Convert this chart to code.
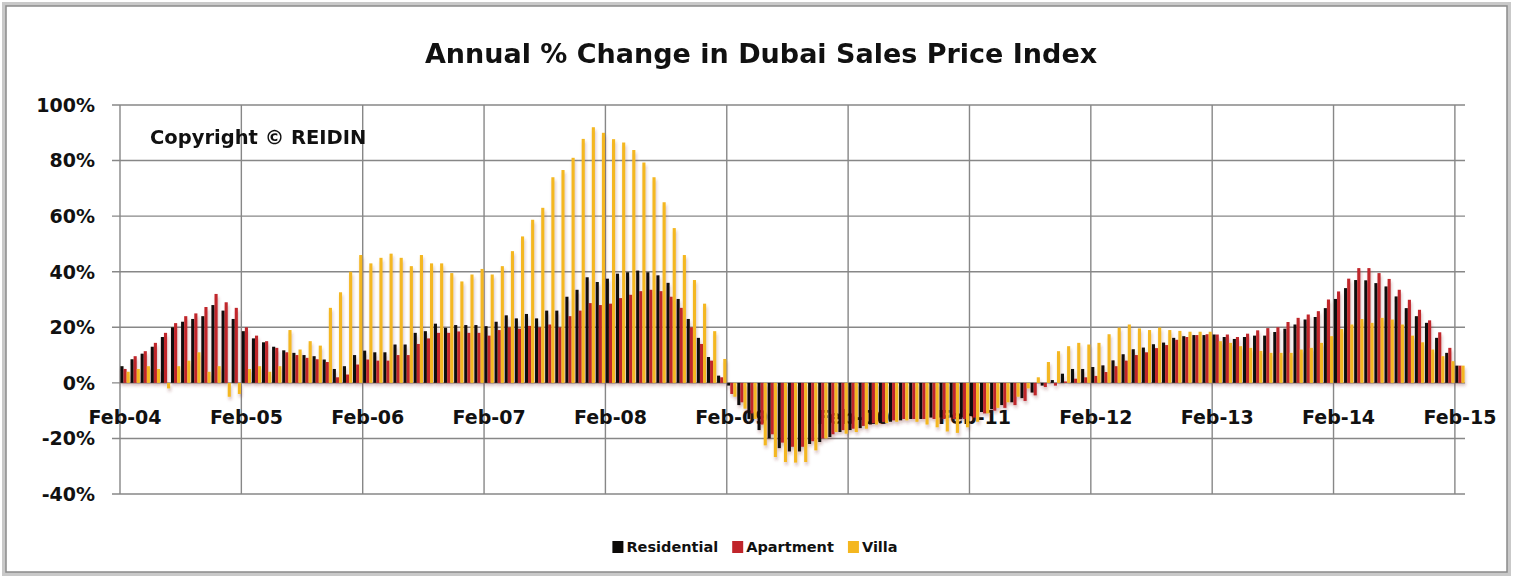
<!DOCTYPE html>
<html>
<head>
<meta charset="utf-8">
<script src="https://cdn.jsdelivr.net/npm/d3@7"></script>
<style>
  body { margin: 0; background: #fff; }
  svg { display: block; font-family: "DejaVu Sans", Lato, sans-serif; font-weight: 700; }
</style>
</head>
<body>
<div id="chart"></div>
<script>
// year tick labels (one every 12 months)
const yearLabels = ["Feb-04", "Feb-05", "Feb-06", "Feb-07", "Feb-08", "Feb-09",
  "Feb-10", "Feb-11", "Feb-12", "Feb-13", "Feb-14", "Feb-15"];
const seriesNames = ["Residential", "Apartment", "Villa"];
const colors = ["#0c0a08", "#c0252b", "#f4b720"];
const yTicks = [-40, -20, 0, 20, 40, 60, 80, 100];

// annual % change, monthly Feb-04 .. Feb-15
const residential = [
  6, 8.5, 10.5, 13, 16.5, 20, 22, 23, 24, 28, 26, 23,
  18.6, 16, 14.6, 13, 11.7, 10.8, 10, 9.6, 8.4, 5, 6, 10,
  11.6, 11, 11, 13.8, 13.8, 18, 18.6, 21.3, 19.8, 20.8, 20.8, 20.8,
  20.4, 22, 24.3, 23.2, 24.8, 23.2, 26, 26, 31, 33.5, 38, 36.3,
  37.5, 39.3, 39.8, 40.4, 39.8, 38.7, 36, 30.2, 23, 16.2, 9.3, 2.6,
  -1, -8, -13, -17, -20, -23.5, -24.7, -24.7, -22, -21.3, -19.5, -17.7,
  -17, -16.3, -15, -14.5, -14, -13.5, -13, -13, -12.5, -12.5, -12.5, -12.5,
  -12, -10.5, -9.5, -8, -7, -5.5, -3.5, -1, 1, 3.3, 5, 5,
  5.7, 6.3, 8.1, 10.3, 12.1, 12.7, 13.9, 14.5, 16.2, 16.8, 17.2, 17.2,
  17.4, 16.5, 15.8, 16.5, 17, 17, 18.3, 19.5, 21, 22.8, 23.7, 26.9,
  30.2, 34.1, 37, 36.9, 35.9, 34.7, 31.1, 26.9, 24, 21.6, 16.2, 10.8, 6.2
];
const apartment = [
  5, 9.6, 11.4, 14.4, 18, 21.5, 24, 25, 27.3, 32, 29, 27,
  20, 17, 15, 12.6, 11, 10, 9, 8.5, 7.5, 2, 3, 6.6,
  8.4, 8, 8, 10, 10, 14, 16, 18, 18, 18.5, 18, 18,
  17, 19, 20, 19.5, 20.5, 20, 21, 20, 24, 26, 28.7, 28,
  28.5, 30.5, 31.7, 33, 33.5, 33, 31, 27, 20, 14, 8, 2,
  -4, -7, -11, -15, -18.5, -21.5, -23, -23, -21, -20, -18.5, -17,
  -16.5, -15.5, -14.5, -14, -13.5, -13, -13, -13, -13, -13, -13, -13,
  -12.5, -11, -10, -9, -8, -6.5, -4.5, -1.5, -1, 0.5, 1.5, 2,
  2.5, 3.9, 6, 8, 10, 11, 12.5, 13.6, 15.5, 16.5, 17.2, 17.5,
  17.4, 17.4, 16.5, 17.7, 18.9, 19.7, 20, 21.9, 23.4, 24.6, 25.8, 30,
  32.9, 37.5, 41.3, 41.3, 39.5, 37.4, 33.5, 29.9, 26.3, 22.5, 18.2, 12.6, 6.2
];
const villa = [
  4, 5, 6, 5, -2, 6, 8, 11, 4, 6, -5, -4,
  5, 6, 4, 6, 19, 12, 15, 13.4, 27, 32.6, 40, 46,
  43, 45, 46.5, 45, 42, 46, 43, 43, 39.5, 36.5, 39, 41,
  39, 42, 47.4, 52.7, 58.7, 63, 74, 76.6, 81, 87.8, 92, 90,
  87.7, 86.5, 83.8, 79.3, 74, 65, 55.7, 46, 37, 28.5, 18.6, 8.6,
  -5, -9.3, -13, -22.5, -26.7, -28.5, -28.7, -28.5, -24.3, -20, -17.7, -18.3,
  -17.7, -16.5, -15, -14.5, -14, -13.5, -14, -15, -16, -17.5, -18, -16,
  -14, -11, -9, -7, -5, -2, 2, 7.5, 11.4, 13.2, 14.4, 13.8,
  14.4, 17.5, 19.9, 21, 19.6, 19, 19.9, 19, 18.7, 18.4, 18.4, 18.4,
  15, 14.4, 13.2, 12.6, 11.5, 10.8, 10.8, 10.8, 12, 12.6, 14.4, 16.8,
  19.4, 21, 23, 21.6, 23.4, 22.8, 21, 17, 14.6, 12, 9.6, 7.8, 6.2
];

const months = d3.timeMonths(new Date(2004, 1, 1), new Date(2015, 2, 1));
const data = months.map((m, i) => ({
  i,
  values: [residential[i], apartment[i], villa[i]]
}));

const W = 1514, H = 579;
const plot = { left: 120, right: 1465, top: 105, bottom: 494 };

const svg = d3
  .select("#chart")
  .append("svg")
  .attr("width", W)
  .attr("height", H);

/**
 * frame with a soft shadow, like the spreadsheet chart area
 */
svg.append("rect")
  .attr("x", 4).attr("y", 4)
  .attr("width", W - 9).attr("height", H - 9)
  .attr("fill", "#fff")
  .attr("stroke", "#c9c9c9")
  .attr("stroke-width", 4);
svg.append("rect")
  .attr("x", 6).attr("y", 6)
  .attr("width", W - 13).attr("height", H - 13)
  .attr("fill", "none")
  .attr("stroke", "#8a8a8a")
  .attr("stroke-width", 1.5);

const defs = svg.append("defs");
defs.append("filter")
  .attr("id", "shadow")
  .attr("x", "-50%").attr("y", "-10%")
  .attr("width", "200%").attr("height", "130%")
  .append("feDropShadow")
  .attr("dx", 1).attr("dy", 3)
  .attr("stdDeviation", 1.8)
  .attr("flood-color", "#7a3030")
  .attr("flood-opacity", 0.3);

/**
 * scales
 */
const x0 = d3
  .scaleBand()
  .domain(d3.range(months.length))
  .range([plot.left, plot.right])
  .paddingInner(0.08)
  .paddingOuter(0.04);

const x1 = d3
  .scaleBand()
  .domain(d3.range(seriesNames.length))
  .range([0, x0.bandwidth()]);

const y = d3
  .scaleLinear()
  .domain([-40, 100])
  .range([plot.bottom, plot.top]);

const step = x0.step();
const gridX = i => plot.left + i * step;

/**
 * grid lines
 */
const grid = svg.append("g").attr("stroke", "#878787").attr("stroke-width", 1.4);
grid.selectAll(".hline")
  .data(yTicks)
  .enter()
  .append("line")
  .attr("x1", plot.left - 8)
  .attr("x2", plot.right)
  .attr("y1", d => y(d))
  .attr("y2", d => y(d));
grid.selectAll(".vline")
  .data(yearLabels)
  .enter()
  .append("line")
  .attr("x1", (d, k) => gridX(k * 12))
  .attr("x2", (d, k) => gridX(k * 12))
  .attr("y1", plot.top)
  .attr("y2", plot.bottom);

/**
 * y labels
 */
svg.append("g")
  .selectAll("text")
  .data(yTicks)
  .enter()
  .append("text")
  .attr("x", 95)
  .attr("y", d => y(d))
  .attr("dy", "0.36em")
  .attr("text-anchor", "end")
  .attr("font-size", 19)
  .attr("fill", "#111")
  .text(d => d + "%");

/**
 * x labels sit on the zero line, under the bars
 */
svg.append("g")
  .selectAll("text")
  .data(yearLabels)
  .enter()
  .append("text")
  .attr("x", (d, k) => gridX(k * 12) + step / 2)
  .attr("y", y(0) + 41)
  .attr("text-anchor", "middle")
  .attr("font-size", 19)
  .attr("fill", "#111")
  .text(d => d);

/**
 * bars
 */
const bars = svg.append("g").attr("filter", "url(#shadow)");
const groups = bars
  .selectAll("g")
  .data(data)
  .enter()
  .append("g")
  .attr("transform", d => `translate(${x0(d.i)},0)`);

groups
  .selectAll("rect")
  .data(d => d.values)
  .enter()
  .append("rect")
  .attr("x", (v, k) => x1(k))
  .attr("width", x1.bandwidth())
  .attr("y", v => y(Math.max(0, v)))
  .attr("height", v => Math.abs(y(v) - y(0)))
  .attr("fill", (v, k) => colors[k]);

/**
 * title and note
 */
svg.append("text")
  .attr("x", 761)
  .attr("y", 63)
  .attr("text-anchor", "middle")
  .attr("font-size", 27)
  .attr("fill", "#111")
  .text("Annual % Change in Dubai Sales Price Index");

svg.append("text")
  .attr("x", 150)
  .attr("y", 144)
  .attr("font-size", 19.5)
  .attr("fill", "#111")
  .text("Copyright © REIDIN");

/**
 * legend
 */
const legend = svg.append("g").attr("transform", "translate(0,547)");
const item = legend
  .selectAll("g")
  .data(seriesNames)
  .enter()
  .append("g");
item.append("rect")
  .attr("y", -6)
  .attr("width", 11)
  .attr("height", 12)
  .attr("fill", (d, k) => colors[k]);
item.append("text")
  .attr("x", 14)
  .attr("dy", "0.36em")
  .attr("font-size", 14.5)
  .attr("fill", "#111")
  .text(d => d);

let widths = [];
item.each(function() {
  widths.push(this.getBBox().width);
});
const gap = 14;
const total = d3.sum(widths) + gap * (widths.length - 1);
let cx = 755 - total / 2;
item.attr("transform", (d, k) => {
  const t = `translate(${cx},0)`;
  cx += widths[k] + gap;
  return t;
});
</script>
</body>
</html>
